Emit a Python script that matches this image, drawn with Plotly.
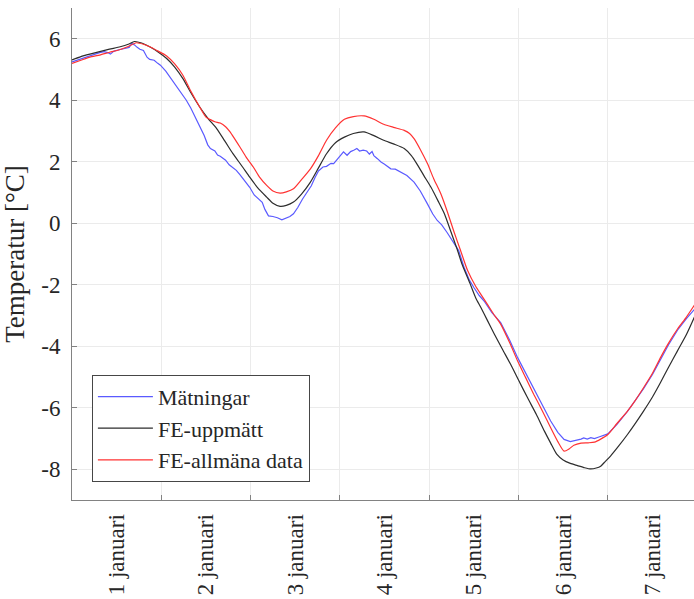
import plotly.graph_objects as go

# ---- data (days since 1 Jan 00:00, temperature in °C) ----
day_labels = ["1 januari", "2 januari", "3 januari", "4 januari",
              "5 januari", "6 januari", "7 januari"]
label_pos = [0.5, 1.5, 2.5, 3.5, 4.5, 5.5, 6.5]
day_bounds = [1, 2, 3, 4, 5, 6]
y_ticks = [-8, -6, -4, -2, 0, 2, 4, 6]
y_ticktext = ["-8", "-6", "-4", "-2", "0", "2", "4", "6"]

meas_x = [0.00, 0.08, 0.16, 0.24, 0.31, 0.36, 0.40, 0.43, 0.47, 0.54, 0.60, 0.64, 0.67, 0.70,
          0.73, 0.76, 0.80, 0.84, 0.87, 0.92, 0.96, 0.99, 1.05, 1.10, 1.13, 1.18, 1.22, 1.28,
          1.33, 1.38, 1.43, 1.48, 1.52, 1.55, 1.60, 1.63, 1.66, 1.69, 1.72, 1.76, 1.80, 1.84,
          1.88, 1.92, 1.96, 1.99, 2.04, 2.09, 2.13, 2.16, 2.20, 2.25, 2.30, 2.35, 2.40, 2.44,
          2.48, 2.53, 2.58, 2.63, 2.68, 2.72, 2.76, 2.81, 2.85, 2.90, 2.93, 2.97, 3.01, 3.04,
          3.08, 3.12, 3.16, 3.19, 3.22, 3.26, 3.30, 3.33, 3.36, 3.38, 3.42, 3.46, 3.50, 3.54,
          3.57, 3.62, 3.68, 3.75, 3.83, 3.90, 3.98, 4.04, 4.09, 4.14, 4.20, 4.27, 4.33, 4.39,
          4.45, 4.50, 4.56, 4.62, 4.70, 4.80, 4.90, 4.99, 5.08, 5.17, 5.27, 5.36, 5.44, 5.51,
          5.58, 5.65, 5.70, 5.73, 5.77, 5.81, 5.85, 5.90, 5.96, 6.00, 6.10, 6.22, 6.31, 6.40,
          6.50, 6.59, 6.68, 6.78, 6.88, 6.97]
meas_y = [5.25, 5.33, 5.40, 5.47, 5.55, 5.58, 5.55, 5.50, 5.60, 5.65, 5.68, 5.72, 5.85, 5.80,
          5.72, 5.66, 5.62, 5.40, 5.33, 5.30, 5.20, 5.14, 4.95, 4.75, 4.60, 4.40, 4.25, 4.00,
          3.75, 3.45, 3.13, 2.85, 2.55, 2.43, 2.35, 2.22, 2.18, 2.10, 2.05, 1.90, 1.82, 1.72,
          1.58, 1.42, 1.25, 1.17, 0.92, 0.78, 0.68, 0.45, 0.24, 0.22, 0.18, 0.11, 0.16, 0.22,
          0.31, 0.52, 0.78, 0.98, 1.22, 1.48, 1.70, 1.83, 1.85, 1.95, 1.94, 2.08, 2.22, 2.32,
          2.21, 2.33, 2.38, 2.43, 2.35, 2.38, 2.35, 2.25, 2.33, 2.20, 2.10, 1.99, 1.92, 1.82,
          1.77, 1.76, 1.66, 1.55, 1.34, 1.05, 0.63, 0.30, 0.09, -0.05, -0.30, -0.62, -0.89, -1.43,
          -1.85, -2.09, -2.35, -2.55, -2.90, -3.23, -3.80, -4.37, -4.88, -5.40, -5.95, -6.43, -6.80, -7.03,
          -7.10, -7.06, -7.02, -6.98, -7.02, -6.97, -7.00, -6.95, -6.90, -6.85, -6.55, -6.12, -5.75, -5.38,
          -4.92, -4.42, -3.95, -3.48, -3.10, -2.80]

feu_x = [0.00, 0.10, 0.20, 0.31, 0.42, 0.54, 0.63, 0.70, 0.78, 0.87, 0.96, 1.06, 1.15, 1.24,
         1.33, 1.43, 1.52, 1.62, 1.71, 1.80, 1.90, 1.99, 2.08, 2.18, 2.25, 2.33, 2.40, 2.48,
         2.57, 2.67, 2.76, 2.85, 2.95, 3.05, 3.15, 3.27, 3.38, 3.49, 3.60, 3.72, 3.80, 3.86,
         3.94, 4.02, 4.10, 4.17, 4.24, 4.31, 4.37, 4.46, 4.52, 4.58, 4.65, 4.73, 4.82, 4.91,
         5.00, 5.10, 5.20, 5.29, 5.36, 5.43, 5.50, 5.58, 5.66, 5.74, 5.81, 5.87, 5.92, 5.97,
         6.03, 6.12, 6.22, 6.31, 6.40, 6.50, 6.59, 6.68, 6.78, 6.88, 6.97]
feu_y = [5.31, 5.42, 5.50, 5.58, 5.66, 5.74, 5.82, 5.91, 5.86, 5.74, 5.58, 5.36, 5.08, 4.71,
         4.25, 3.78, 3.42, 3.08, 2.68, 2.27, 1.87, 1.50, 1.15, 0.85, 0.65, 0.55, 0.58, 0.69,
         0.95, 1.34, 1.80, 2.26, 2.62, 2.80, 2.92, 2.97, 2.85, 2.70, 2.58, 2.43, 2.20, 1.94,
         1.55, 1.17, 0.72, 0.31, -0.25, -0.82, -1.35, -1.98, -2.42, -2.75, -3.15, -3.61, -4.10, -4.58,
         -5.10, -5.67, -6.22, -6.76, -7.15, -7.52, -7.70, -7.81, -7.88, -7.95, -7.99, -7.96, -7.90, -7.75,
         -7.57, -7.25, -6.87, -6.50, -6.11, -5.65, -5.18, -4.68, -4.15, -3.62, -3.05]

fea_x = [0.00, 0.10, 0.20, 0.31, 0.42, 0.54, 0.63, 0.72, 0.80, 0.87, 0.95, 1.06, 1.15, 1.24,
         1.33, 1.43, 1.50, 1.55, 1.60, 1.66, 1.72, 1.77, 1.82, 1.88, 1.95, 2.03, 2.10, 2.18,
         2.25, 2.33, 2.40, 2.48, 2.57, 2.67, 2.76, 2.85, 2.95, 3.05, 3.15, 3.27, 3.38, 3.49,
         3.60, 3.72, 3.78, 3.83, 3.90, 3.98, 4.05, 4.13, 4.20, 4.28, 4.35, 4.43, 4.52, 4.58,
         4.65, 4.72, 4.80, 4.90, 4.99, 5.08, 5.17, 5.27, 5.36, 5.44, 5.51, 5.57, 5.62, 5.70,
         5.78, 5.85, 5.92, 6.00, 6.10, 6.22, 6.31, 6.40, 6.50, 6.59, 6.68, 6.78, 6.88, 6.97]
fea_y = [5.20, 5.30, 5.40, 5.47, 5.56, 5.65, 5.75, 5.87, 5.82, 5.74, 5.62, 5.44, 5.18, 4.82,
         4.30, 3.78, 3.45, 3.37, 3.30, 3.26, 3.14, 2.97, 2.75, 2.48, 2.15, 1.83, 1.50, 1.23,
         1.05, 0.98, 1.02, 1.12, 1.42, 1.77, 2.20, 2.70, 3.10, 3.38, 3.47, 3.49, 3.38, 3.22,
         3.12, 3.02, 2.92, 2.75, 2.40, 1.94, 1.45, 0.96, 0.40, -0.30, -0.88, -1.54, -2.05, -2.32,
         -2.63, -2.95, -3.28, -3.88, -4.48, -5.02, -5.56, -6.12, -6.65, -7.10, -7.41, -7.33, -7.22, -7.15,
         -7.14, -7.12, -7.02, -6.87, -6.52, -6.11, -5.75, -5.35, -4.88, -4.37, -3.90, -3.44, -3.05, -2.66]

FONT = "Liberation Serif, Times New Roman, serif"
TXT = "rgb(38,38,38)"
GRID = "rgb(235,235,235)"
AX = "rgb(130,130,130)"

fig = go.Figure()
fig.add_trace(go.Scatter(x=meas_x, y=meas_y, mode="lines", name="Mätningar",
                         line=dict(color="rgb(90,90,255)", width=1.2)))
fig.add_trace(go.Scatter(x=feu_x, y=feu_y, mode="lines", name="FE-uppmätt",
                         line=dict(color="rgb(45,45,45)", width=1.2, shape="spline", smoothing=0.6)))
fig.add_trace(go.Scatter(x=fea_x, y=fea_y, mode="lines", name="FE-allmäna data",
                         line=dict(color="rgb(255,50,50)", width=1.2, shape="spline", smoothing=0.6)))

fig.update_layout(
    width=694, height=599,
    margin=dict(l=72, r=0, t=8, b=99),
    paper_bgcolor="white", plot_bgcolor="white",
    font=dict(family=FONT, color=TXT, size=22),
    legend=dict(x=0.032, y=0.037, xanchor="left", yanchor="bottom",
                bgcolor="white", bordercolor="rgb(70,70,70)", borderwidth=1,
                font=dict(family=FONT, size=22, color=TXT), tracegroupgap=0,
                itemwidth=55),
    showlegend=True,
)

fig.update_xaxes(
    range=[0, 6.965],
    tickmode="array", tickvals=label_pos, ticktext=day_labels,
    tickangle=-90, ticks="", showgrid=False, zeroline=False,
    showline=True, linecolor=AX, linewidth=1,
    tickfont=dict(family=FONT, size=23, color=TXT),
    ticklabelstandoff=4,
    minor=dict(tickmode="array", tickvals=day_bounds, ticks="inside", ticklen=5,
               tickcolor=AX, showgrid=True, gridcolor=GRID, gridwidth=1),
)
fig.update_yaxes(
    range=[-9, 7],
    tickmode="array", tickvals=y_ticks, ticktext=y_ticktext,
    ticks="inside", ticklen=5, tickcolor=AX,
    showgrid=True, gridcolor=GRID, gridwidth=1, zeroline=False,
    showline=True, linecolor=AX, linewidth=1,
    tickfont=dict(family=FONT, size=23, color=TXT),
    ticklabelstandoff=6,
    title=dict(text="Temperatur [°C]", font=dict(family=FONT, size=27, color=TXT), standoff=8),
)

fig.write_html("out.html")
